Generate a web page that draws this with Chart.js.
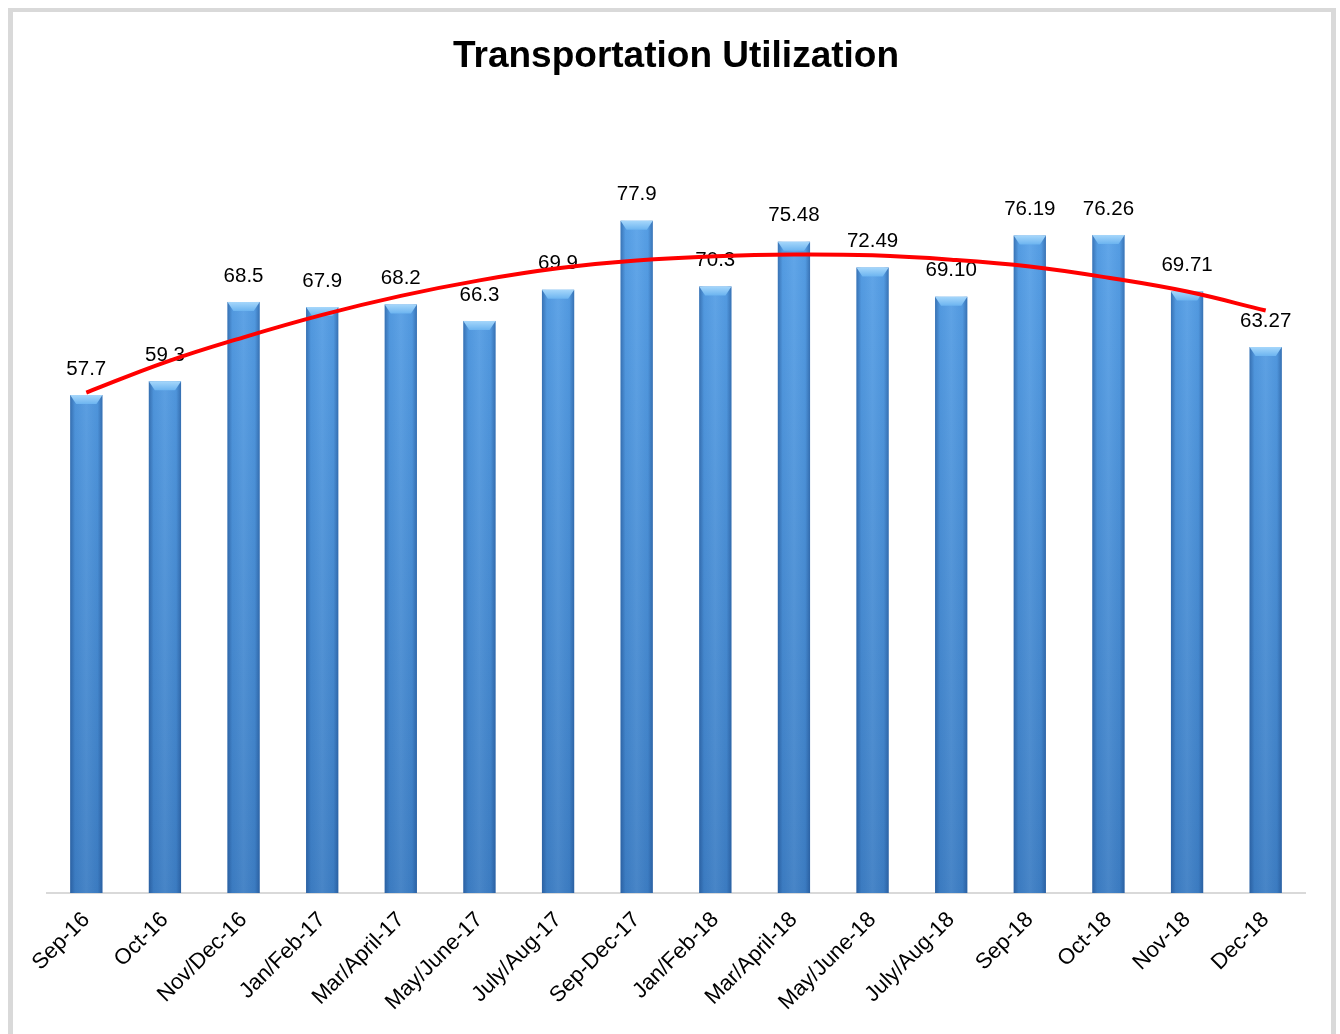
<!DOCTYPE html>
<html>
<head>
<meta charset="utf-8">
<script src="https://cdn.jsdelivr.net/npm/chart.js@4.4.1/dist/chart.umd.min.js"></script>
<style>
    html, body { margin: 0; padding: 0; background: #ffffff; overflow: hidden; }
    #frame {
        position: absolute; left: 8px; top: 8px; width: 1318px; height: 1100px;
        border-left: 5px solid #d9d9d9; border-right: 5px solid #d9d9d9; border-top: 4px solid #d9d9d9;
    }
    #utilChart { position: absolute; left: 0; top: 0; }
</style>
</head>
<body>
<div id="frame"></div>
<canvas id="utilChart" width="1340" height="1034"></canvas>
<script>
// Periods on the x axis
const periods = [
    'Sep-16', 'Oct-16', 'Nov/Dec-16', 'Jan/Feb-17', 'Mar/April-17', 'May/June-17',
    'July/Aug-17', 'Sep-Dec-17', 'Jan/Feb-18', 'Mar/April-18', 'May/June-18',
    'July/Aug-18', 'Sep-18', 'Oct-18', 'Nov-18', 'Dec-18'
];

// Utilization index per period
const utilization = [57.7, 59.3, 68.5, 67.9, 68.2, 66.3, 69.9, 77.9, 70.3, 75.48, 72.49, 69.10, 76.19, 76.26, 69.71, 63.27];

// Labels as printed above the bars
const utilizationText = ['57.7', '59.3', '68.5', '67.9', '68.2', '66.3', '69.9', '77.9', '70.3', '75.48', '72.49', '69.10', '76.19', '76.26', '69.71', '63.27'];

// Polynomial trend line
const trend = [58.0, 61.5, 64.4, 67.0, 69.2, 71.0, 72.4, 73.3, 73.8, 74.0, 73.9, 73.4, 72.6, 71.3, 69.7, 67.5];

const fontFamily = "'Liberation Sans', Arial, sans-serif";

// Vertical fill gradient for the bars
const barFill = (context) => {
    const chart = context.chart;
    const area = chart.chartArea;
    if (!area) return '#4a90d9';
    const g = chart.ctx.createLinearGradient(0, area.top, 0, area.bottom);
    g.addColorStop(0, '#5ca7ee');
    g.addColorStop(1, '#3d7ec4');
    return g;
};

// Bevel shading + value labels, drawn right after the bar dataset
const barDecor = {
    id: 'barDecor',
    afterDatasetDraw(chart, args) {
        if (args.index !== 0) return;
        const ctx = chart.ctx;
        ctx.save();
        args.meta.data.forEach((bar, i) => {
            const w = bar.width;
            const left = bar.x - w / 2;
            const top = bar.y;
            const h = bar.base - bar.y;

            // darker sides
            const side = ctx.createLinearGradient(left, 0, left + w, 0);
            side.addColorStop(0, 'rgba(20,60,120,0.45)');
            side.addColorStop(0.15, 'rgba(20,60,120,0.05)');
            side.addColorStop(0.5, 'rgba(255,255,255,0.06)');
            side.addColorStop(0.85, 'rgba(20,60,120,0.05)');
            side.addColorStop(1, 'rgba(20,60,120,0.45)');
            ctx.fillStyle = side;
            ctx.fillRect(left, top, w, h);

            // top bevel
            const cap = ctx.createLinearGradient(0, top, 0, top + 9);
            cap.addColorStop(0, '#a6d7fb');
            cap.addColorStop(1, '#6cb4f0');
            ctx.fillStyle = cap;
            ctx.beginPath();
            ctx.moveTo(left, top);
            ctx.lineTo(left + w, top);
            ctx.lineTo(left + w - 6, top + 9);
            ctx.lineTo(left + 6, top + 9);
            ctx.closePath();
            ctx.fill();

            // value label
            ctx.fillStyle = '#000000';
            ctx.font = '20.5px ' + fontFamily;
            ctx.textAlign = 'center';
            ctx.textBaseline = 'middle';
            ctx.fillText(utilizationText[i], bar.x, top - 26);
        });
        ctx.restore();
    }
};

const xAxisHeight = 141;

new Chart(document.getElementById('utilChart'), {
    type: 'bar',
    data: {
        labels: periods,
        datasets: [
            {
                label: 'Transportation Utilization',
                data: utilization,
                backgroundColor: barFill,
                borderWidth: 0,
                barPercentage: 0.41,
                categoryPercentage: 1,
                order: 1,
            },
            {
                type: 'line',
                label: 'Trend',
                data: trend,
                borderColor: '#ff0000',
                borderWidth: 4,
                pointRadius: 0,
                tension: 0.4,
                fill: false,
                order: 0,
            }
        ]
    },
    options: {
        responsive: false,
        animation: false,
        devicePixelRatio: 1,
        layout: { padding: { left: 47, right: 35, top: 0, bottom: 0 } },
        plugins: {
            legend: { display: false },
            tooltip: { enabled: false },
            title: {
                display: true,
                text: 'Transportation Utilization',
                color: '#000000',
                font: { family: fontFamily, size: 37, weight: 'bold', lineHeight: 1.2 },
                padding: { top: 35, bottom: 37 }
            }
        },
        scales: {
            x: {
                grid: { display: false },
                border: { display: true, color: '#d9d9d9', width: 2 },
                ticks: {
                    autoSkip: false,
                    minRotation: 45,
                    maxRotation: 45,
                    color: '#000000',
                    padding: 6,
                    font: { family: fontFamily, size: 22 }
                },
                afterFit: (scale) => { scale.height = xAxisHeight; }
            },
            y: {
                display: false,
                min: 0,
                max: 90
            }
        }
    },
    plugins: [barDecor]
});
</script>
</body>
</html>
